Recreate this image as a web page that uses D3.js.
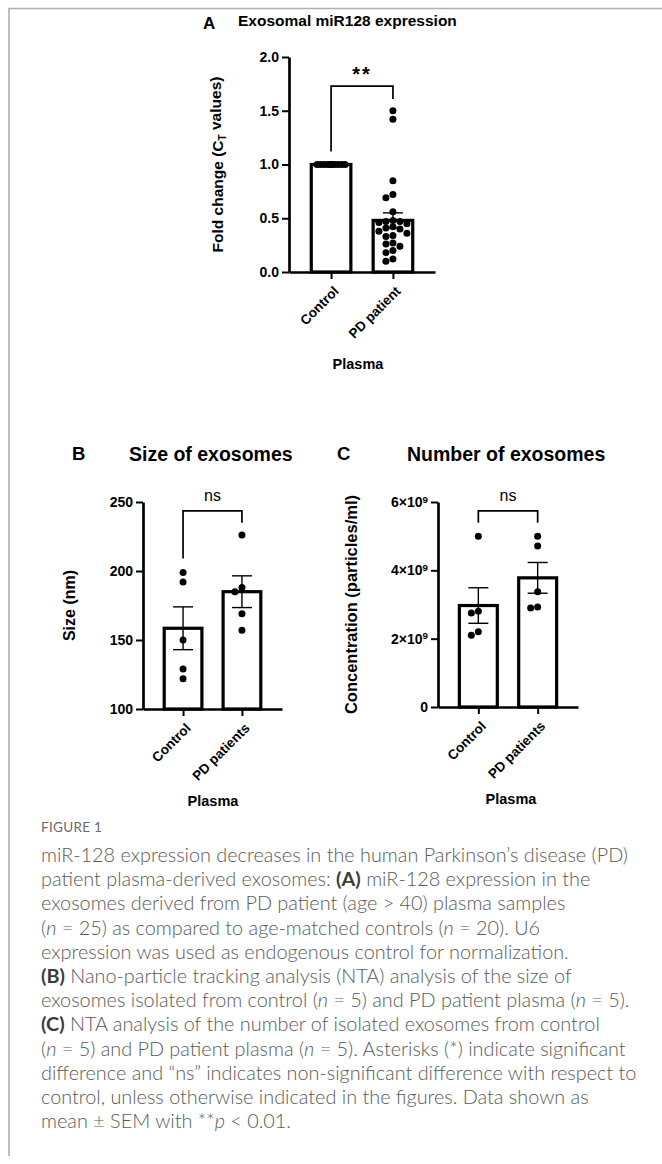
<!DOCTYPE html>
<html>
<head>
<meta charset="utf-8">
<script src="https://cdn.jsdelivr.net/npm/d3@7"></script>
<style>
body { margin: 0; background: #fff; }
svg text { font-family: "Liberation Sans", Arial, sans-serif; fill: #000; }
svg .caption text { font-family: Lato, "Open Sans", sans-serif; }
</style>
</head>
<body>
<svg id="fig" width="662" height="1164"></svg>
<script>
// ---- panel A: exosomal miR128, fold change
var groupsA = ["Control", "PD patient"];
var meansA = [1.0, 0.48];
var semsA = [0, 0.07];
var controlA = [1.0, 1.0, 1.0, 1.0, 1.0, 1.0, 1.0, 1.0, 1.0, 1.0,
                1.0, 1.0, 1.0, 1.0, 1.0, 1.0, 1.0, 1.0, 1.0, 1.0];
var patientA = [1.50, 1.42, 0.85, 0.72, 0.69, 0.56, 0.48, 0.47, 0.47, 0.46,
                0.45, 0.42, 0.41, 0.40, 0.38, 0.36, 0.34, 0.33, 0.27, 0.26,
                0.24, 0.20, 0.18, 0.12, 0.10];
var ticksA = [0, 0.5, 1.0, 1.5, 2.0];

// ---- panel B: size of exosomes (nm)
var groupsB = ["Control", "PD patients"];
var meansB = [158.5, 185];
var semsB = [15.5, 11.5];
var controlB = [199, 192, 150, 129, 122];
var patientB = [226, 188, 185, 169, 157];
var ticksB = [100, 150, 200, 250];

// ---- panel C: number of exosomes (particles/ml)
var groupsC = ["Control", "PD patients"];
var meansC = [2.97e9, 3.78e9];
var semsC = [0.52e9, 0.45e9];
var controlC = [5.0e9, 2.8e9, 2.75e9, 2.2e9, 2.1e9];
var patientC = [5.0e9, 4.71e9, 3.37e9, 2.93e9, 2.9e9];
var ticksC = [0, 2e9, 4e9, 6e9];

var captionLines = [
  "miR-128 expression decreases in the human Parkinson\u2019s disease (PD)",
  "patient plasma-derived exosomes: <b>(A)</b> miR-128 expression in the",
  "exosomes derived from PD patient (age > 40) plasma samples",
  "(<i>n</i> = 25) as compared to age-matched controls (<i>n</i> = 20). U6",
  "expression was used as endogenous control for normalization.",
  "<b>(B)</b> Nano-particle tracking analysis (NTA) analysis of the size of",
  "exosomes isolated from control (<i>n</i> = 5) and PD patient plasma (<i>n</i> = 5).",
  "<b>(C)</b> NTA analysis of the number of isolated exosomes from control",
  "(<i>n</i> = 5) and PD patient plasma (<i>n</i> = 5). Asterisks (*) indicate significant",
  "difference and \u201cns\u201d indicates non-significant difference with respect to",
  "control, unless otherwise indicated in the figures. Data shown as",
  "mean \u00b1 SEM with **<i>p</i> < 0.01."
];

var svg = d3.select("#fig");
svg.append("rect").attr("width", 662).attr("height", 1164).attr("fill", "#fff");

// page frame (top + left)
svg.append("path")
  .attr("d", "M9,1156V8.5H662")
  .attr("fill", "none")
  .attr("stroke", "#b0b0b0")
  .attr("stroke-width", 1.6);

// simple beeswarm so overlapping dots spread sideways, like the prism plot
function swarm(values, y, r, maxOff) {
  var step = r;
  var placed = [];
  values.slice().sort(d3.descending).forEach(function(v) {
    var py = y(v);
    var cands = [0];
    for (var k = 1; k * step <= maxOff; k++) cands.push(-k * step, k * step);
    var best = 0, bestD = -1;
    for (var i = 0; i < cands.length; i++) {
      var o = cands[i];
      var d = placed.length ? d3.min(placed, function(q) { return Math.hypot(q.dx - o, q.py - py); }) : Infinity;
      if (d >= 2 * r * 0.95) { best = o; bestD = d; break; }
      if (d > bestD) { bestD = d; best = o; }
    }
    placed.push({ v: v, py: py, dx: best });
  });
  return placed;
}

function drawPanel(p) {
  var g = svg.append("g").attr("transform", "translate(" + p.left + ",0)");

  var x = d3.scalePoint().domain(p.groups).range([0, p.width]).padding(0.68);
  var y = d3.scaleLinear().domain(p.domain).range([p.bottom, p.top]);
  var barW = x.step() * 0.64;

  // bars
  g.selectAll(".bar")
    .data(p.groups)
    .enter()
    .append("rect")
    .attr("x", function(d) { return x(d) - barW / 2; })
    .attr("y", function(d, i) { return y(p.means[i]); })
    .attr("width", barW)
    .attr("height", function(d, i) { return y(p.domain[0]) - y(p.means[i]); })
    .attr("fill", "#fff")
    .attr("stroke", "#000")
    .attr("stroke-width", 3.2);

  // dots
  p.dots.forEach(function(vals, gi) {
    var pts = swarm(vals, y, 3.5, barW / 2 - 3.5);
    g.append("g").selectAll("circle")
      .data(pts)
      .enter()
      .append("circle")
      .attr("cx", function(d) { return x(p.groups[gi]) + d.dx; })
      .attr("cy", function(d) { return d.py; })
      .attr("r", 3.5)
      .attr("fill", "#000");
  });

  // error bars (mean +- sem)
  var eb = g.selectAll(".err")
    .data(p.groups.filter(function(d, i) { return p.sems[i] > 0; }))
    .enter()
    .append("g")
    .attr("stroke", "#000")
    .attr("stroke-width", 1.4);
  eb.append("line")
    .attr("x1", function(d) { return x(d); })
    .attr("x2", function(d) { return x(d); })
    .attr("y1", function(d) { var i = p.groups.indexOf(d); return y(p.means[i] - p.sems[i]); })
    .attr("y2", function(d) { var i = p.groups.indexOf(d); return y(p.means[i] + p.sems[i]); });
  [-1, 1].forEach(function(s) {
    eb.append("line")
      .attr("x1", function(d) { return x(d) - 10; })
      .attr("x2", function(d) { return x(d) + 10; })
      .attr("y1", function(d) { var i = p.groups.indexOf(d); return y(p.means[i] + s * p.sems[i]); })
      .attr("y2", function(d) { var i = p.groups.indexOf(d); return y(p.means[i] + s * p.sems[i]); });
  });

  // y axis
  var ya = g.append("g")
    .call(d3.axisLeft(y).tickValues(p.ticks).tickSize(7).tickSizeOuter(0).tickPadding(3).tickFormat(p.fmt));
  ya.select(".domain").attr("stroke-width", 2.7);
  ya.selectAll(".tick line").attr("stroke-width", 2);
  ya.selectAll(".tick text")
    .attr("font-size", p.tickSize)
    .attr("font-weight", "bold")
    .attr("font-family", "Liberation Sans, Arial, sans-serif");
  if (p.sup) {
    ya.selectAll(".tick text").filter(function(d) { return d !== 0; })
      .append("tspan")
      .attr("dy", "-0.45em")
      .attr("font-size", p.tickSize * 0.7)
      .text(p.sup);
  }

  // x axis
  var xa = g.append("g")
    .attr("transform", "translate(0," + y(p.domain[0]) + ")")
    .call(d3.axisBottom(x).tickSize(7).tickSizeOuter(0));
  xa.select(".domain").attr("stroke-width", 2.7);
  xa.selectAll(".tick line").attr("stroke-width", 2);
  xa.selectAll(".tick text")
    .attr("y", 0)
    .attr("dy", null)
    .attr("text-anchor", "end")
    .attr("transform", "translate(8,20) rotate(-45)")
    .attr("font-size", 13.5)
    .attr("font-weight", "bold")
    .attr("font-family", "Liberation Sans, Arial, sans-serif");

  // significance bracket
  var b = p.bracket;
  g.append("path")
    .attr("d", "M" + x(p.groups[0]) + "," + y(b[0]) + "V" + y(b[1]) + "H" + x(p.groups[1]) + "V" + y(b[2]))
    .attr("fill", "none")
    .attr("stroke", "#000")
    .attr("stroke-width", 1.7);
  g.append("text")
    .attr("x", (x(p.groups[0]) + x(p.groups[1])) / 2)
    .attr("y", y(b[1]) - p.sigGap)
    .attr("text-anchor", "middle")
    .attr("font-size", p.sigSize)
    .attr("font-weight", p.sigBold ? "bold" : "normal")
    .attr("letter-spacing", p.sigBold ? 2 : 0)
    .text(p.sig);

  // y label
  var yl = g.append("text")
    .attr("transform", "translate(" + p.ylabX + "," + (p.top + p.bottom) / 2 + ") rotate(-90)")
    .attr("text-anchor", "middle")
    .attr("font-size", p.ylabSize)
    .attr("font-weight", "bold");
  p.ylab.forEach(function(s) {
    var t = yl.append("tspan").text(s.t);
    if (s.sub) t.attr("font-size", p.ylabSize * 0.65).attr("dy", "0.3em");
    if (s.after) t.attr("dy", "-0.3em");
  });

  // x group label
  g.append("text")
    .attr("x", p.plasmaX)
    .attr("y", p.plasmaY)
    .attr("text-anchor", "middle")
    .attr("font-size", 14.5)
    .attr("font-weight", "bold")
    .text("Plasma");

  // panel letter + title
  svg.append("text")
    .attr("x", p.letterX).attr("y", p.letterY)
    .attr("font-size", p.letterSize).attr("font-weight", "bold")
    .text(p.letter);
  svg.append("text")
    .attr("x", p.titleX).attr("y", p.titleY)
    .attr("font-size", p.titleSize).attr("font-weight", "bold")
    .text(p.title);
}

drawPanel({
  groups: groupsA, means: meansA, sems: semsA, dots: [controlA, patientA],
  domain: [0, 2], ticks: ticksA, fmt: d3.format(".1f"), tickSize: 14,
  left: 289, width: 146, top: 57, bottom: 272,
  bracket: [1.12, 1.73, 1.61], sig: "**", sigSize: 20, sigBold: true, sigGap: 5,
  ylab: [{ t: "Fold change (C" }, { t: "T", sub: true }, { t: " values)", after: true }],
  ylabX: 223 - 289, ylabSize: 15.5,
  plasmaX: 358 - 289, plasmaY: 369,
  letter: "A", letterX: 203, letterY: 29, letterSize: 17,
  title: "Exosomal miR128 expression", titleX: 238, titleY: 26, titleSize: 15.5
});

drawPanel({
  groups: groupsB, means: meansB, sems: semsB, dots: [controlB, patientB],
  domain: [100, 250], ticks: ticksB, fmt: d3.format("d"), tickSize: 14,
  left: 143, width: 139, top: 502, bottom: 709,
  bracket: [209, 243.5, 235], sig: "ns", sigSize: 16, sigBold: false, sigGap: 10,
  ylab: [{ t: "Size (nm)" }],
  ylabX: 75 - 143, ylabSize: 16,
  plasmaX: 213 - 143, plasmaY: 806,
  letter: "B", letterX: 72, letterY: 460, letterSize: 18.5,
  title: "Size of exosomes", titleX: 129, titleY: 461, titleSize: 19.5
});

drawPanel({
  groups: groupsC, means: meansC, sems: semsC, dots: [controlC, patientC],
  domain: [0, 6e9], ticks: ticksC,
  fmt: function(d) { return d === 0 ? "0" : (d / 1e9) + "\u00d710"; }, sup: "9", tickSize: 14,
  left: 438, width: 140, top: 502, bottom: 707,
  bracket: [5.39e9, 5.74e9, 5.39e9], sig: "ns", sigSize: 16, sigBold: false, sigGap: 10,
  ylab: [{ t: "Concentration (particles/ml)" }],
  ylabX: 357 - 438, ylabSize: 16.5,
  plasmaX: 511 - 438, plasmaY: 804,
  letter: "C", letterX: 337, letterY: 460, letterSize: 18.5,
  title: "Number of exosomes", titleX: 407, titleY: 461, titleSize: 19.5
});

// ---- caption
var cap = svg.append("g").attr("class", "caption");
cap.append("text")
  .attr("x", 41).attr("y", 832)
  .attr("font-size", 13.5)
  .style("fill", "#6a6a6a")
  .attr("letter-spacing", 0.3)
  .text("FIGURE 1");

var capText = cap.append("text")
  .attr("x", 41).attr("y", 0)
  .attr("font-weight", 300)
  .style("fill", "#5a5a5a");
captionLines.forEach(function(line, li) {
  var t = capText.append("tspan").attr("x", 41).attr("y", 862 + li * 24.2);
  var re = /<(b|i)>(.*?)<\/\1>/g, last = 0, m;
  while ((m = re.exec(line)) !== null) {
    if (m.index > last) t.append("tspan").text(line.slice(last, m.index));
    var s = t.append("tspan").text(m[2]);
    if (m[1] === "b") s.attr("font-weight", 700).style("fill", "#3c3c3c");
    else s.attr("font-style", "italic");
    last = re.lastIndex;
  }
  if (last < line.length) t.append("tspan").text(line.slice(last));
});
// fit caption size to the width of the first line in the figure
capText.attr("font-size", 16);
var w0 = capText.select("tspan").node().getComputedTextLength();
capText.attr("font-size", 16 * 587 / w0);
</script>
</body>
</html>
